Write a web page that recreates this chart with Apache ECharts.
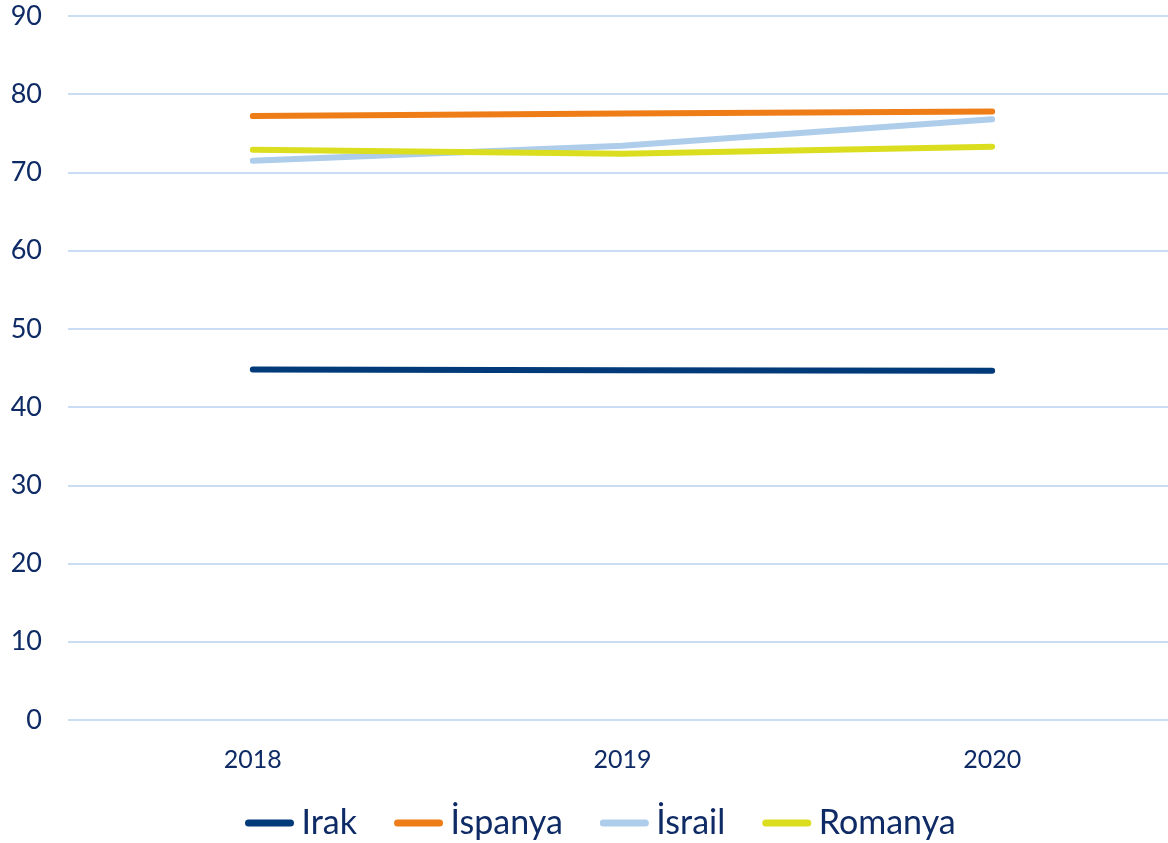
<!DOCTYPE html>
<html>
<head>
<meta charset="utf-8">
<script src="https://cdn.jsdelivr.net/npm/echarts@6/dist/echarts.min.js"></script>
<style>
  html, body { margin: 0; padding: 0; background: #fff; overflow: hidden; }
  /* plot area runs a little past the right edge of the window, as in the reference */
  #chart { width: 1177px; height: 843px; }
</style>
</head>
<body>
<div id="chart"></div>
<script>
const years = ['2018', '2019', '2020'];
const irak = [44.8, 44.7, 44.65];
const ispanya = [77.2, 77.55, 77.8];
const israil = [71.5, 73.4, 76.8];
const romanya = [72.9, 72.4, 73.3];

const textColor = '#0F2B66';
const font = 'Lato, "Liberation Sans", sans-serif';
// rounded bar used as legend icon
const capsule = 'path://M4,0 H52 A4,4 0 0 1 52,8 H4 A4,4 0 0 1 4,0 Z';

const chart = echarts.init(document.getElementById('chart'));

function line(name, data, color) {
  return {
    name: name,
    type: 'line',
    data: data,
    symbol: 'none',
    color: color,
    lineStyle: { width: 6, color: color, cap: 'round', join: 'round' },
    emphasis: { disabled: true }
  };
}

chart.setOption({
  animation: false,
  grid: { left: 68, right: 0, top: 16, bottom: 123, containLabel: false },
  xAxis: {
    type: 'category',
    data: years,
    boundaryGap: true,
    axisLine: { show: false },
    axisTick: { show: false },
    axisLabel: { color: textColor, fontSize: 25, fontFamily: font, margin: 27 }
  },
  yAxis: {
    type: 'value',
    min: 0,
    max: 90,
    interval: 10,
    axisLine: { show: false },
    axisTick: { show: false },
    splitLine: { lineStyle: { color: '#C9DEF5', width: 2 } },
    axisLabel: { color: textColor, fontSize: 27, fontFamily: font, margin: 26 }
  },
  legend: {
    left: 245,
    top: 806,
    padding: 0,
    icon: capsule,
    itemWidth: 56,
    itemHeight: 7,
    itemGap: 37,
    textStyle: { color: textColor, fontSize: 34, fontFamily: font, padding: [0, 0, 0, -1] },
    data: ['Irak', 'İspanya', 'İsrail', 'Romanya']
  },
  series: [
    line('Irak', irak, '#003A78'),
    line('İspanya', ispanya, '#EE7D18'),
    line('İsrail', israil, '#ADCDEB'),
    line('Romanya', romanya, '#DADE1F')
  ]
});
</script>
</body>
</html>
